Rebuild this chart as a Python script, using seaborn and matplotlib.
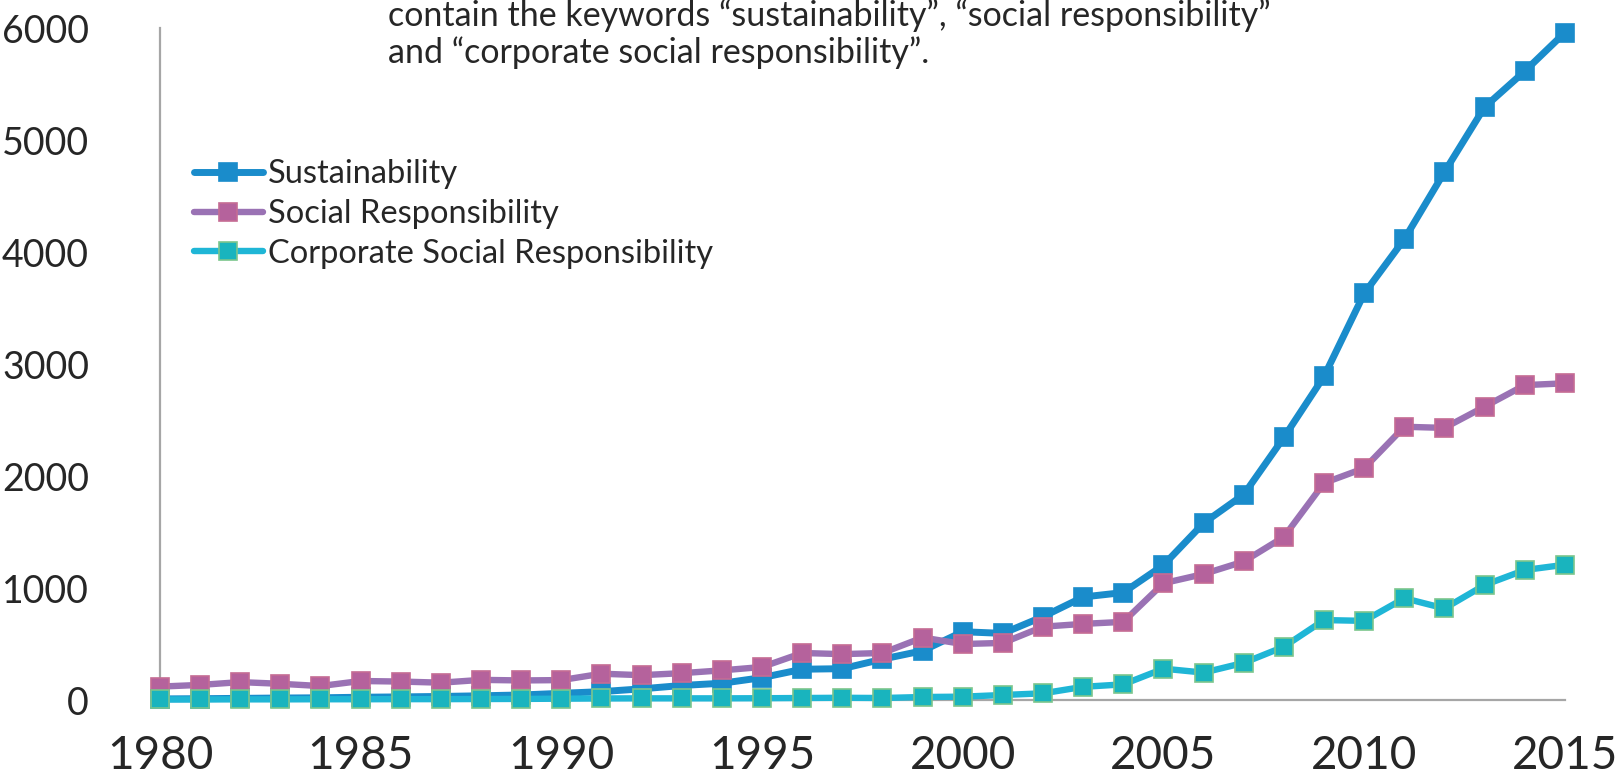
import matplotlib
matplotlib.use("Agg")
import matplotlib.pyplot as plt
import seaborn as sns
import pandas as pd

years = list(range(1980, 2016))

sustainability = [10, 12, 15, 18, 20, 25, 28, 32, 38, 45,
                  60, 75, 100, 130, 150, 200,
                  275, 280, 365, 440, 610, 595, 745, 920, 960, 1205,
                  1580, 1835, 2345, 2890, 3630, 4115, 4715, 5295, 5615, 5960]

social_responsibility = [120, 135, 160, 145, 125, 170, 165, 155, 180, 175,
                         178, 235, 222, 240, 265, 295,
                         420, 410, 420, 558, 500, 510, 655, 680, 698, 1043,
                         1125, 1237, 1457, 1938, 2070, 2440, 2430, 2620, 2812, 2828]

csr = [5, 5, 6, 6, 7, 7, 8, 8, 9, 10, 12, 14, 15, 15, 15, 16,
       18, 20, 18, 27, 30, 45, 60, 118, 140, 280,
       245, 332, 476, 714, 707, 909, 818, 1027, 1161, 1208]

series_names = ["Sustainability", "Social Responsibility",
                "Corporate Social Responsibility"]
y_ticks = [0, 1000, 2000, 3000, 4000, 5000, 6000]
x_ticks = [1980, 1985, 1990, 1995, 2000, 2005, 2010, 2015]

caption_lines = [
    "contain the keywords \u201csustainability\u201d, \u201csocial responsibility\u201d",
    "and \u201ccorporate social responsibility\u201d.",
]

df = pd.DataFrame({
    "year": years,
    series_names[0]: sustainability,
    series_names[1]: social_responsibility,
    series_names[2]: csr,
})

sns.set_theme(style="white")
plt.rcParams["font.family"] = ["Lato", "DejaVu Sans"]

fig = plt.figure(figsize=(16.22, 7.84), dpi=100)
ax = fig.add_axes([0.0986, 0.1071, 0.8662, 0.8571])

styles = {
    series_names[0]: dict(color="#1A8CCB", mfc="#1A8CCB", mec="#1A8CCB", lw=5.0),
    series_names[1]: dict(color="#9A72B4", mfc="#B5629C", mec="#C56C94", lw=4.6),
    series_names[2]: dict(color="#1FB6D6", mfc="#19B4BE", mec="#7CC68C", lw=4.6),
}

for name in series_names:
    st = styles[name]
    sns.lineplot(data=df, x="year", y=name, ax=ax, label=name,
                 color=st["color"], linewidth=st["lw"], marker="s",
                 markersize=12.5, markerfacecolor=st["mfc"],
                 markeredgecolor=st["mec"], markeredgewidth=1.2,
                 clip_on=False, zorder=3)

ax.set_xlim(1980, 2015)
ax.set_ylim(0, 6000)
ax.set_xticks(x_ticks)
ax.set_yticks(y_ticks)
ax.set_xlabel("")
ax.set_ylabel("")

for side in ("top", "right"):
    ax.spines[side].set_visible(False)
for side in ("left", "bottom"):
    ax.spines[side].set_color("#A6A6A6")
    ax.spines[side].set_linewidth(1.6)

ax.tick_params(axis="both", which="major", direction="out", length=8,
               width=1.4, color="#A6A6A6")
ax.tick_params(axis="y", labelsize=27, pad=43)
ax.tick_params(axis="x", labelsize=33, pad=17)

leg = ax.legend(loc="upper left", bbox_to_anchor=(0.1197, 0.797),
                bbox_transform=fig.transFigure, frameon=False,
                fontsize=23.5, handlelength=2.1, handletextpad=0.15,
                labelspacing=0.3, borderpad=0, borderaxespad=0)

fig.text(0.239, 0.967, caption_lines[0], fontsize=24.5, ha="left", va="baseline")
fig.text(0.239, 0.920, caption_lines[1], fontsize=24.5, ha="left", va="baseline")

fig.savefig("out.png", dpi=100, facecolor="white")
